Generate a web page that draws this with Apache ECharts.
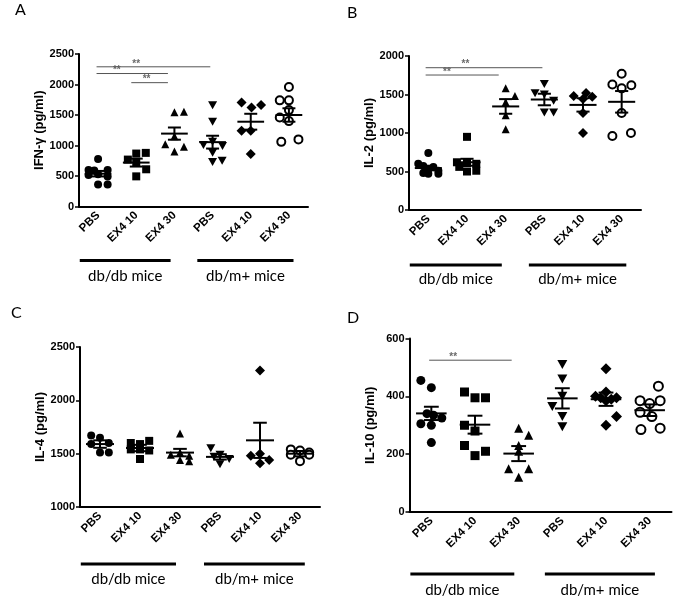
<!DOCTYPE html>
<html>
<head>
<meta charset="utf-8">
<script src="https://cdn.jsdelivr.net/npm/echarts@6/dist/echarts.min.js"></script>
<style>
html, body { margin: 0; padding: 0; background: #fff; }
#chart { width: 675px; height: 599px; }
</style>
</head>
<body>
<div id="chart"></div>
<script>
////////////////////
// data
////////////////////
var groups = ['PBS', 'EX4 10', 'EX4 30', 'PBS', 'EX4 10', 'EX4 30'];
var mouseGroups = ['db/db mice', 'db/m+ mice'];

// A: IFN-γ
var ifn_vals = [
    [780, 600, 590, 600, 515, 530, 490, 360, 360],
    [868, 879, 769, 714, 610, 494],
    [1545, 1555, 1150, 1020, 980, 900],
    [1660, 1390, 1060, 1010, 990, 880, 730, 750],
    [1705, 1625, 1665, 1240, 1240, 860],
    [1960, 1740, 1740, 1460, 1580, 1400, 1060, 1100]
];
var ifn_jit = [
    [0, -0.25, -0.1, 0.25, -0.25, 0, 0.25, 0, 0.25],
    [0, 0.25, -0.22, 0, 0.26, 0],
    [0, 0.25, 0, -0.24, 0.25, 0],
    [0, 0, 0, -0.24, 0.26, 0, 0, 0.25],
    [-0.24, 0.02, 0.27, -0.24, 0, 0],
    [0, -0.24, 0, -0.24, 0, 0, -0.2, 0.25]
];
var ifn_mean = [538, 720, 1195, 1055, 1390, 1500];
var ifn_sem = [45, 65, 100, 105, 130, 110];
var ifn_sig = [[-0.04, 2.94, 2290, 1.0], [-0.04, 1.83, 2180, 0.49], [0.87, 1.83, 2030, 1.27]];

// B: IL-2
var il2_vals = [
    [740, 600, 570, 560, 530, 510, 480, 470, 470],
    [950, 620, 610, 600, 560, 510, 500],
    [1580, 1480, 1400, 1230, 1050],
    [1635, 1515, 1500, 1265, 1265, 1420],
    [1480, 1520, 1470, 1440, 1260, 1000],
    [1770, 1630, 1620, 1580, 1260, 960, 1000]
];
var il2_jit = [
    [0, -0.26, -0.13, 0.13, 0, 0.26, -0.13, 0, 0.26],
    [0, -0.26, 0, 0.24, -0.2, 0.24, 0],
    [0, 0.24, 0, 0, 0],
    [0, -0.24, 0, 0, 0.24, 0.24],
    [-0.24, 0.08, 0.24, 0, 0, 0],
    [0, -0.24, 0.25, 0, 0, -0.24, 0.24]
];
var il2_mean = [545, 620, 1345, 1435, 1365, 1405];
var il2_sem = [30, 45, 95, 75, 87, 140];
var il2_sig = [[-0.07, 2.95, 1848, 0.96], [-0.07, 1.82, 1753, 0.48]];

// C: IL-4
var il4_vals = [
    [1670, 1650, 1600, 1590, 1510, 1510],
    [1620, 1600, 1590, 1540, 1540, 1530, 1450],
    [1690, 1510, 1490, 1480, 1440, 1430],
    [1550, 1490, 1470, 1450, 1400],
    [2280, 1500, 1480, 1440, 1410],
    [1540, 1530, 1510, 1490, 1490, 1430]
];
var il4_jit = [
    [-0.22, 0, 0.22, -0.22, 0, 0.22],
    [0.23, -0.23, 0, -0.23, 0, 0.23, 0],
    [0, 0, -0.23, 0.23, 0, 0.23],
    [-0.23, 0, -0.15, 0.23, 0],
    [0, 0, -0.23, 0.23, 0],
    [-0.23, 0, 0.23, -0.23, 0.23, 0]
];
var il4_mean = [1590, 1553, 1510, 1470, 1625, 1500];
var il4_sem = [35, 30, 35, 25, 165, 25];
var il4_sig = [];

// D: IL-10
var il10_vals = [
    [455, 430, 340, 335, 325, 305, 300, 240],
    [415, 395, 395, 300, 280, 230, 195, 210],
    [290, 265, 230, 210, 150, 150, 120],
    [510, 460, 400, 365, 330, 295],
    [495, 415, 400, 395, 395, 390, 385, 330, 300],
    [435, 385, 375, 385, 345, 330, 285, 290]
];
var il10_jit = [
    [-0.24, 0, -0.1, 0.05, 0.24, -0.24, 0, 0],
    [-0.24, 0, 0.24, -0.24, 0, -0.24, 0, 0.24],
    [0, 0.23, 0, 0, -0.23, 0.23, 0],
    [0, 0, 0, -0.23, 0, 0],
    [0, 0, -0.24, 0.24, -0.12, 0.12, 0, 0.24, 0],
    [0.2, -0.22, 0, 0.24, -0.22, 0.05, -0.2, 0.24]
];
var il10_mean = [341, 302, 202, 393, 390, 352];
var il10_sem = [23, 31, 26, 35, 23, 20];
var il10_sig = [[-0.05, 1.84, 525, 0.5]];

////////////////////
// layout + style
////////////////////
var FONT = '"Liberation Sans", Arial, sans-serif';
var panels = [
    {letter: 'A', name: 'IFN-\u03b3 (pg/ml)', min: 0, max: 2500, step: 500, vals: ifn_vals, jit: ifn_jit, mean: ifn_mean, sem: ifn_sem, sig: ifn_sig,
     grid: {left: 79, top: 54, width: 229, height: 152.5}, letterPos: [15, 2], size: 8, barOff: 54, textOff: 70},
    {letter: 'B', name: 'IL-2 (pg/ml)', min: 0, max: 2000, step: 500, vals: il2_vals, jit: il2_jit, mean: il2_mean, sem: il2_sem, sig: il2_sig,
     grid: {left: 409, top: 56, width: 232, height: 154}, letterPos: [347, 5], size: 8, barOff: 55, textOff: 69},
    {letter: 'C', name: 'IL-4 (pg/ml)', min: 1000, max: 2500, step: 500, vals: il4_vals, jit: il4_jit, mean: il4_mean, sem: il4_sem, sig: il4_sig,
     grid: {left: 80, top: 347, width: 240, height: 160}, letterPos: [11, 305], size: 8, barOff: 57, textOff: 72},
    {letter: 'D', name: 'IL-10 (pg/ml)', min: 0, max: 600, step: 200, vals: il10_vals, jit: il10_jit, mean: il10_mean, sem: il10_sem, sig: il10_sig,
     grid: {left: 409.5, top: 338.5, width: 262, height: 173.5}, letterPos: [347, 310], size: 9, barOff: 62, textOff: 78}
];
var symbols = ['circle', 'rect', 'triangle', 'path://M0,0 L10,0 L5,10 Z', 'diamond', 'circle'];

var option = {
    animation: false,
    backgroundColor: '#fff',
    title: [], grid: [], xAxis: [], yAxis: [], series: []
};

function meanSem(params, api) {
    var i = api.value(0), m = api.value(1), s = api.value(2);
    var l = api.coord([i - 0.35, m]), r = api.coord([i + 0.35, m]);
    var t = api.coord([i, m + s]), b = api.coord([i, m - s]);
    var tl = api.coord([i - 0.17, m + s]), tr = api.coord([i + 0.17, m + s]);
    var bl = api.coord([i - 0.17, m - s]), br = api.coord([i + 0.17, m - s]);
    var st = {stroke: '#000', lineWidth: 2};
    return {type: 'group', children: [
        {type: 'line', shape: {x1: l[0], y1: l[1], x2: r[0], y2: r[1]}, style: st},
        {type: 'line', shape: {x1: t[0], y1: t[1], x2: b[0], y2: b[1]}, style: st},
        {type: 'line', shape: {x1: tl[0], y1: tl[1], x2: tr[0], y2: tr[1]}, style: st},
        {type: 'line', shape: {x1: bl[0], y1: bl[1], x2: br[0], y2: br[1]}, style: st}
    ]};
}

panels.forEach(function(p, k){
    option.title.push({text: p.letter, left: p.letterPos[0], top: p.letterPos[1], padding: 0,
        textStyle: {fontFamily: 'Lato', fontWeight: 'normal', fontSize: 16, color: '#000'}});
    option.grid.push(p.grid);
    option.xAxis.push({
        type: 'category', gridIndex: k, data: groups, boundaryGap: true,
        axisLine: {onZero: false, lineStyle: {color: '#000', width: 2}},
        axisTick: {alignWithLabel: true, length: 4, lineStyle: {color: '#000', width: 1.5}},
        axisLabel: {rotate: 45, interval: 0, margin: 7, color: '#000', fontFamily: FONT, fontWeight: 'bold', fontSize: 11.5}
    });
    option.xAxis.push({type: 'value', gridIndex: k, min: -0.5, max: 5.5, show: false});
    option.yAxis.push({
        type: 'value', gridIndex: k, min: p.min, max: p.max, interval: p.step,
        name: p.name, nameLocation: 'middle', nameGap: 33,
        nameTextStyle: {color: '#000', fontFamily: FONT, fontWeight: 'bold', fontSize: 13},
        axisLine: {show: true, onZero: false, lineStyle: {color: '#000', width: 2}},
        axisTick: {show: true, length: 4, lineStyle: {color: '#000', width: 1.5}},
        axisLabel: {margin: 5, color: '#000', fontFamily: FONT, fontWeight: 'bold', fontSize: 11,
            formatter: function(v){ return String(v); }},
        splitLine: {show: false}
    });
    var xi = 2 * k + 1;
    p.vals.forEach(function(vs, g){
        option.series.push({
            type: 'scatter', xAxisIndex: xi, yAxisIndex: k,
            symbol: symbols[g], symbolSize: g == 3 ? [p.size + 1, p.size] : (g == 4 ? p.size + 2 : p.size),
            itemStyle: g == 5 ? {color: '#fff', borderColor: '#000', borderWidth: 2, opacity: 1} : {color: '#000', opacity: 1},
            data: vs.map(function(v, j){ return [g + p.jit[g][j], v]; }),
            z: 2
        });
    });
    option.series.push({
        type: 'custom', xAxisIndex: xi, yAxisIndex: k, renderItem: meanSem, z: 3,
        data: p.mean.map(function(m, g){ return [g, m, p.sem[g]]; })
    });
    p.sig.forEach(function(s){
        option.series.push({
            type: 'line', xAxisIndex: xi, yAxisIndex: k, symbol: 'none',
            lineStyle: {color: '#555', width: 1}, data: [[s[0], s[2]], [s[1], s[2]]]
        });
        option.series.push({
            type: 'scatter', xAxisIndex: xi, yAxisIndex: k, symbolSize: 0,
            label: {show: true, position: 'top', distance: -2, formatter: '**', color: '#444', fontFamily: FONT, fontSize: 10, fontWeight: 'bold'},
            data: [[s[3], s[2]]]
        });
    });
});

var mychart = echarts.init(document.getElementById('chart'), null, {renderer: 'canvas'});
mychart.setOption(option);

////////////////////
// mouse group bars under axes
////////////////////
var graphics = [];
panels.forEach(function(p, k){
    var xi = 2 * k + 1;
    var yBase = mychart.convertToPixel({yAxisIndex: k}, p.min);
    [[-0.48, 1.9], [2.6, 5.12]].forEach(function(span, j){
        var x1 = mychart.convertToPixel({xAxisIndex: xi}, span[0]);
        var x2 = mychart.convertToPixel({xAxisIndex: xi}, span[1]);
        graphics.push({type: 'line', shape: {x1: x1, y1: yBase + p.barOff, x2: x2, y2: yBase + p.barOff},
            style: {stroke: '#000', lineWidth: 3}});
        graphics.push({type: 'text', x: (x1 + x2) / 2, y: yBase + p.textOff,
            style: {text: mouseGroups[j], fill: '#000', font: '15px Lato', textAlign: 'center', textVerticalAlign: 'middle'}});
    });
});
mychart.setOption({graphic: graphics});
</script>
</body>
</html>
